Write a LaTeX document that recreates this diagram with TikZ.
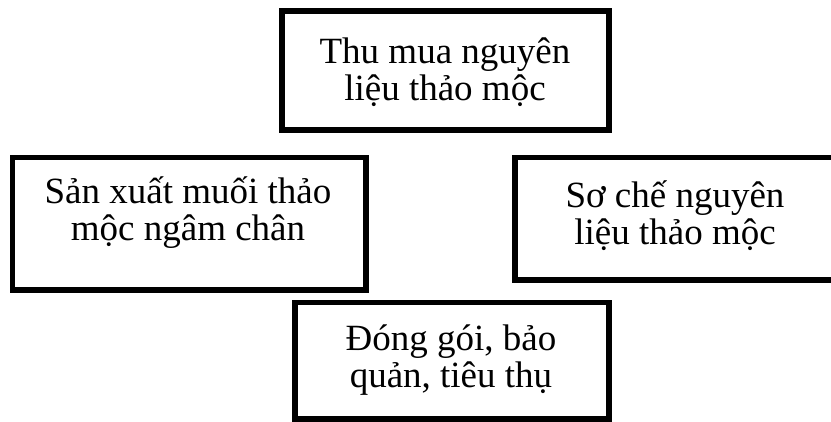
\documentclass[tikz,border=0pt]{standalone}
\usepackage{fontspec}
\setmainfont{Liberation Serif}
\newcommand\myTopStrut{\rule{0pt}{36pt}}
\begin{document}
\begin{tikzpicture}[x=1pt,y=-1pt,
  box/.style={draw=black,line width=5.5pt,fill=white,inner sep=0pt},
  txt/.style={inner sep=0pt,align=center,anchor=north,font=\fontsize{37}{37}\selectfont}]
\useasboundingbox (0,0) rectangle (831,421);
% boxes
\node[box,minimum width=327pt,minimum height=119pt] (top) at (445.5,70.5) {};
\node[box,minimum width=353.5pt,minimum height=132.5pt] (left) at (189.25,223.75) {};
\node[box,minimum width=320pt,minimum height=122.5pt] (right) at (675,218.75) {};
\node[box,minimum width=314pt,minimum height=116.5pt] (bottom) at (452,360.75) {};
% texts
\node[txt] (ttop) at (445,{63-36}) {\myTopStrut Thu mua nguyên\\liệu thảo mộc};
\node[txt] (tleft) at (188,{203-36}) {\myTopStrut Sản xuất muối thảo\\mộc ngâm chân};
\node[txt] (tright) at (675,{207-36}) {\myTopStrut Sơ chế nguyên\\liệu thảo mộc};
\node[txt] (tbottom) at (451,{350-36}) {\myTopStrut Đóng gói, bảo\\quản, tiêu thụ};
\end{tikzpicture}
\end{document}
